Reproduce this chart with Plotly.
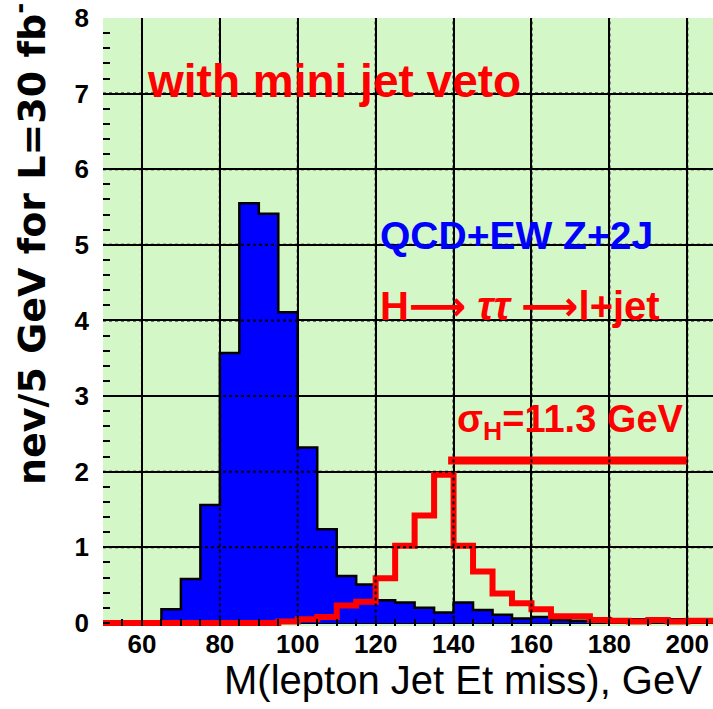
import plotly.graph_objects as go

# ---------------- data ----------------
bin_low = list(range(50, 210, 5))  # 5 GeV bins, lower edges 50..205
bin_width = 5

qcd_ew_z2j = [0.0, 0.0, 0.0, 0.18, 0.58, 1.56, 3.57, 5.55, 5.41, 4.11,
              2.32, 1.24, 0.62, 0.51, 0.30, 0.27, 0.20, 0.14, 0.27, 0.17,
              0.11, 0.06, 0.08, 0.04, 0.03, 0.05, 0.05, 0.05, 0.05, 0.05,
              0.05, 0.05]

higgs_tautau = [0.0, 0.0, 0.0, 0.0, 0.0, 0.0, 0.0, 0.0, 0.0, 0.02,
                0.05, 0.08, 0.23, 0.28, 0.59, 1.02, 1.42, 1.96, 1.02, 0.68,
                0.39, 0.26, 0.18, 0.09, 0.09, 0.04, 0.03, 0.02, 0.04, 0.02,
                0.03, 0.03]

x_ticks = [60, 80, 100, 120, 140, 160, 180, 200]
y_ticks = [0, 1, 2, 3, 4, 5, 6, 7, 8]

sigma_bar_x = [138.6, 200.0]
sigma_bar_y = [2.15, 2.15]

x_range = [50, 206.6]
y_range = [-0.04, 8]

# ---------------- helpers ----------------
def step(vals):
    xs = bin_low + [bin_low[-1] + bin_width]
    ys = list(vals) + [vals[-1]]
    return xs, ys

BLUE = "#0000ff"
RED = "#ff0000"
BG = "rgb(212,247,200)"

fig = go.Figure()

bx, by = step(qcd_ew_z2j)
fig.add_trace(go.Scatter(x=bx, y=by, mode="lines", line_shape="hv",
                         fill="tozeroy", fillcolor=BLUE,
                         line=dict(color="black", width=2.5),
                         hoverinfo="skip"))

rx, ry = step(higgs_tautau)
fig.add_trace(go.Scatter(x=rx, y=ry, mode="lines", line_shape="hv",
                         line=dict(color=RED, width=6),
                         hoverinfo="skip"))

fig.add_trace(go.Scatter(x=sigma_bar_x, y=sigma_bar_y, mode="lines",
                         line=dict(color=RED, width=8), hoverinfo="skip"))

# dotted grid overlay (grid shows through the filled histogram)
shapes = []
for xv in x_ticks:
    shapes.append(dict(type="line", xref="x", yref="y", x0=xv, x1=xv,
                       y0=0.06, y1=y_ticks[-1], layer="above",
                       line=dict(color="black", width=2, dash="dot")))
for yv in y_ticks[1:-1]:
    shapes.append(dict(type="line", xref="x", yref="y", x0=x_range[0], x1=x_range[1],
                       y0=yv, y1=yv, layer="above",
                       line=dict(color="black", width=2, dash="dot")))

fig.update_layout(
    width=713, height=709,
    margin=dict(l=103, r=0, t=18, b=83, pad=0),
    paper_bgcolor="white", plot_bgcolor=BG,
    showlegend=False,
    shapes=shapes,
    xaxis=dict(range=x_range, tickvals=x_ticks, showgrid=True, gridcolor="black",
               gridwidth=2, zeroline=False, showline=False,
               ticks="inside", ticklen=7, tickwidth=2, tickcolor="black",
               minor=dict(dtick=5, tick0=0, ticks="inside", ticklen=7, tickwidth=2,
                          tickcolor="black", showgrid=False),
               tickfont=dict(family="Liberation Sans, Arial", size=26, color="black", weight="bold"),
               ticklabelstandoff=0,
               layer="above traces", fixedrange=True),
    yaxis=dict(range=y_range, tickvals=y_ticks, showgrid=True, gridcolor="black",
               gridwidth=2, zeroline=False, showline=False,
               ticks="inside", ticklen=7, tickwidth=2, tickcolor="black",
               minor=dict(dtick=0.2, tick0=0, ticks="inside", ticklen=7, tickwidth=2,
                          tickcolor="black", showgrid=False),
               tickfont=dict(family="Liberation Sans, Arial", size=26, color="black", weight="bold"),
               ticklabelstandoff=13,
               layer="above traces", fixedrange=True),
)

ann_font = "Liberation Sans, Arial"
arrow = '<span style="font-family:DejaVu Sans">⟶</span>'
fig.add_annotation(x=60.8, y=7.17, xref="x", yref="y", xanchor="left", yanchor="middle",
                   text="with mini jet veto", showarrow=False,
                   font=dict(family=ann_font, size=46, color=RED, weight="bold"))
fig.add_annotation(x=120.6, y=5.13, xref="x", yref="y", xanchor="left", yanchor="middle",
                   text="QCD+EW Z+2J", showarrow=False,
                   font=dict(family=ann_font, size=39, color=BLUE, weight="bold"))
fig.add_annotation(x=120.6, y=4.19, xref="x", yref="y", xanchor="left", yanchor="middle",
                   text="H" + arrow + " <i>ττ</i> " + arrow + "l+jet", showarrow=False,
                   font=dict(family=ann_font, size=40, color=RED, weight="bold"))
fig.add_annotation(x=140.4, y=2.66, xref="x", yref="y", xanchor="left", yanchor="middle",
                   text="σ<sub>H</sub>=11.3 GeV", showarrow=False,
                   font=dict(family=ann_font, size=38, color=RED, weight="bold"))

# axis titles
fig.add_annotation(x=0.59, y=-0.088, xref="paper", yref="paper", xanchor="center", yanchor="middle",
                   text="M(lepton Jet Et miss), GeV", showarrow=False,
                   font=dict(family=ann_font, size=40, color="black"))
fig.add_annotation(x=-0.121, y=0.228, xref="paper", yref="paper", xanchor="center", yanchor="bottom",
                   text="nev/5 GeV for L=30 fb<sup>-1</sup>", showarrow=False, textangle=-90,
                   font=dict(family="DejaVu Sans", size=38, color="black", weight="bold"))

fig.write_html("out.html")
